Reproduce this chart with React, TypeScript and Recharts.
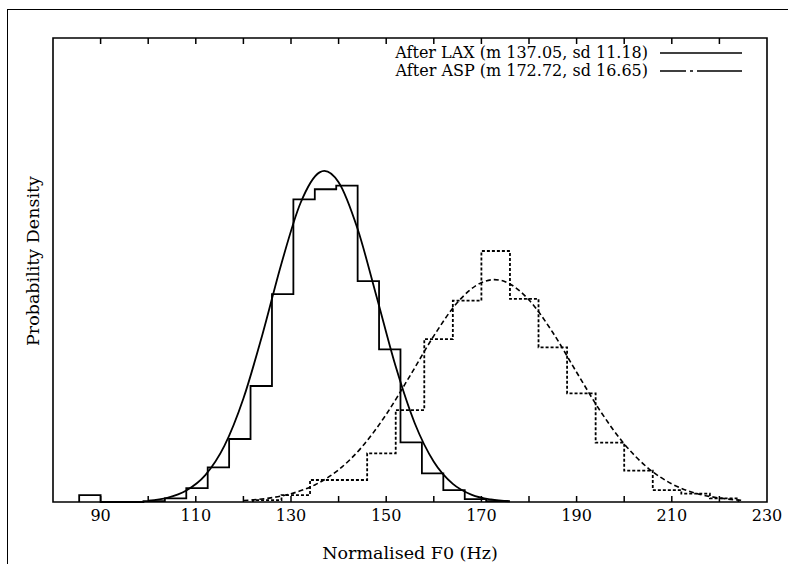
import { ComposedChart, Line, XAxis, YAxis, ReferenceArea, ReferenceLine } from "recharts";

// Histogram bins (bin edges in Hz, heights as density)
const laxEdges = [85.5, 90, 94.5, 99, 103.5, 108, 112.5, 117, 121.5, 126, 130.5, 135, 139.5, 144, 148.5, 153, 157.5, 162, 166.5, 171, 175.5];
const laxHeights = [0.00075, 0, 0, 0.0001, 0.0004, 0.0015, 0.00374, 0.00679, 0.0125, 0.0224, 0.0326, 0.0337, 0.0341, 0.0238, 0.01645, 0.00643, 0.00309, 0.00129, 0.0003, 0.0001];

const aspEdges = [122, 128, 134, 140, 146, 152, 158, 164, 170, 176, 182, 188, 194, 200, 206, 212, 218, 224];
const aspHeights = [0.0002, 0.00075, 0.00237, 0.00237, 0.00525, 0.00991, 0.01756, 0.0217, 0.02705, 0.02188, 0.01667, 0.01171, 0.00639, 0.00338, 0.00129, 0.0009, 0.0004];

// Fitted normal curves
const laxCurveX = [100, 104, 108, 112, 116, 120, 124, 128, 132, 136, 137, 140, 144, 148, 152, 156, 160, 164, 168, 172, 176];
const laxCurveY = [0.00015, 0.00045, 0.00124, 0.0029, 0.00604, 0.01115, 0.01806, 0.02571, 0.03222, 0.03552, 0.03568, 0.03446, 0.02941, 0.02209, 0.01459, 0.00849, 0.00434, 0.00195, 0.00077, 0.00027, 0.00008];

const aspCurveX = [120, 125, 130, 135, 140, 145, 150, 155, 160, 165, 170, 172.7, 175, 180, 185, 190, 195, 200, 205, 210, 215, 220, 225];
const aspCurveY = [0.00016, 0.00039, 0.00089, 0.00184, 0.00347, 0.00599, 0.00944, 0.0136, 0.0179, 0.02152, 0.02364, 0.02396, 0.02374, 0.02177, 0.01826, 0.01398, 0.00979, 0.00626, 0.00366, 0.00195, 0.00095, 0.00043, 0.00017];

const xTicks = [80, 90, 100, 110, 120, 130, 140, 150, 160, 170, 180, 190, 200, 210, 220, 230];
const labelledTicks = [90, 110, 130, 150, 170, 190, 210, 230];

const legendItems = [
  { label: "After LAX (m 137.05, sd 11.18)", dash: undefined },
  { label: "After ASP (m 172.72, sd 16.65)", dash: "26 4 3 4 80" },
];

const FONT = "'DejaVu Serif', 'Liberation Serif', serif";

function toSteps(edges: number[], heights: number[]) {
  const pts = [{ x: edges[0], y: 0 }];
  heights.forEach((h, i) => pts.push({ x: edges[i], y: h }));
  pts.push({ x: edges[edges.length - 1], y: 0 });
  return pts;
}

function toPoints(xs: number[], ys: number[]) {
  return xs.map((x, i) => ({ x, y: ys[i] }));
}

const laxHist = toSteps(laxEdges, laxHeights);
const aspHist = toSteps(aspEdges, aspHeights);
const laxCurve = toPoints(laxCurveX, laxCurveY);
const aspCurve = toPoints(aspCurveX, aspCurveY);

// only every other tick carries a label
function BottomLabel(props: any) {
  const { x, y, payload } = props;
  const v = payload.value;
  if (!labelledTicks.includes(v)) return <g />;
  return (
    <text x={x} y={y + 19} textAnchor="middle" fontFamily={FONT} fontSize={16} fill="#000">
      {v}
    </text>
  );
}

// gnuplot-style inward ticks at top and bottom of the frame
function InwardTick(props: any) {
  const { x1, y1, x2, y2 } = props;
  const s = y2 > y1 ? 1 : -1;
  return (
    <g>
      <line x1={x1} x2={x1} y1={y1} y2={y1 + s * 6} stroke="#000" strokeWidth={1.5} />
      <line x1={x2} x2={x2} y1={y2} y2={y2 - s * 6} stroke="#000" strokeWidth={1.5} />
    </g>
  );
}

export default function App() {
  return (
    <div style={{ position: "absolute", left: 0, top: 0, width: 796, height: 564, background: "#fff", fontFamily: FONT }}>
      {/* outer frame of the scanned figure */}
      <div style={{ position: "absolute", left: 7, top: 9, width: 780, height: 560, borderLeft: "1.5px solid #000", borderTop: "1.5px solid #000" }} />

      <ComposedChart width={796} height={564} margin={{ top: 38, right: 29, bottom: 0, left: 53 }} style={{ position: "absolute", left: 0, top: 0 }}>
        <XAxis
          dataKey="x"
          type="number"
          domain={[80, 230]}
          ticks={xTicks}
          interval={0}
          height={62}
          axisLine={false}
          tickLine={false}
          tickSize={0}
          tickMargin={0}
          tick={<BottomLabel />}
        />
        <YAxis hide type="number" domain={[0, 0.05]} />
        <ReferenceArea x1={80} x2={230} y1={0} y2={0.05} fill="none" stroke="#000" strokeWidth={1.6} fillOpacity={0} />
        {xTicks.slice(1, -1).map((t) => (
          <ReferenceLine key={t} x={t} shape={InwardTick} />
        ))}

        <Line data={laxHist} dataKey="y" type="stepAfter" stroke="#000" strokeWidth={1.8} dot={false} isAnimationActive={false} />
        <Line data={laxCurve} dataKey="y" type="monotone" stroke="#000" strokeWidth={1.8} dot={false} isAnimationActive={false} />
        <Line data={aspHist} dataKey="y" type="stepAfter" stroke="#000" strokeWidth={1.8} strokeDasharray="3 2" dot={false} isAnimationActive={false} />
        <Line data={aspCurve} dataKey="y" type="monotone" stroke="#000" strokeWidth={1.6} strokeDasharray="5 3" dot={false} isAnimationActive={false} />
      </ComposedChart>

      {/* legend */}
      <div style={{ position: "absolute", right: 54, top: 44, fontSize: 16, lineHeight: "18px", color: "#000" }}>
        {legendItems.map((it) => (
          <div key={it.label} style={{ display: "flex", justifyContent: "flex-end", alignItems: "center", gap: 12 }}>
            <span style={{ whiteSpace: "nowrap" }}>{it.label}</span>
            <svg width={82} height={18}>
              <line x1={0} x2={82} y1={9} y2={9} stroke="#000" strokeWidth={1.6} strokeDasharray={it.dash} />
            </svg>
          </div>
        ))}
      </div>

      {/* axis titles */}
      <div style={{ position: "absolute", left: 410, top: 553, transform: "translate(-50%, -50%)", fontSize: 17.5, whiteSpace: "nowrap", color: "#000" }}>
        Normalised F0 (Hz)
      </div>
      <div style={{ position: "absolute", left: 33, top: 261, transform: "translate(-50%, -50%) rotate(-90deg)", fontSize: 17.5, whiteSpace: "nowrap", color: "#000" }}>
        Probability Density
      </div>
    </div>
  );
}
